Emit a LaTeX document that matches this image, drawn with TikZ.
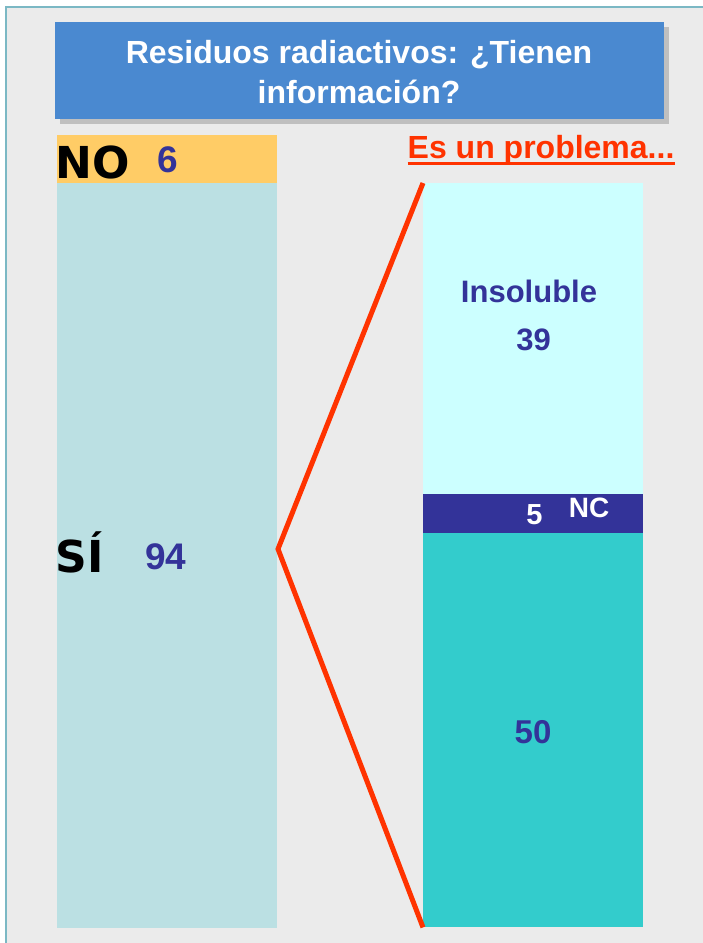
\documentclass[tikz,border=0pt]{standalone}
\usepackage{fontspec}
\setmainfont{Liberation Sans}
\newfontfamily\verdfont{DejaVu Sans}
\usepackage{xcolor}
\usetikzlibrary{shadows}

\definecolor{bgGray}{HTML}{EBEBEB}
\definecolor{frameTeal}{HTML}{7BB8C4}
\definecolor{titleBlue}{HTML}{4A89D0}
\definecolor{noOrange}{HTML}{FFCC66}
\definecolor{siBlue}{HTML}{BBE0E3}
\definecolor{insCyan}{HTML}{CCFFFF}
\definecolor{ncNavy}{HTML}{333399}
\definecolor{fiftyTeal}{HTML}{33CCCC}
\definecolor{probRed}{HTML}{FF3300}

\tikzset{
  bar/.style={rectangle,inner sep=0pt,anchor=north west,minimum width=220pt},
  lbl/.style={inner sep=0pt,anchor=base,font=\bfseries\fontsize{#1}{#1}\selectfont},
  lbl/.default=31,
  bigword/.style={inner sep=0pt,anchor=base west,font=\verdfont\bfseries\fontsize{44}{44}\selectfont}
}

\begin{document}
\begin{tikzpicture}[x=1pt,y=-1pt]
\useasboundingbox (0,0) rectangle (702,943);
\fill[white] (0,0) rectangle (702,943);
\fill[bgGray,draw=frameTeal,line width=2pt] (5.5,6.5) rectangle (712,953);

% title
\node[rectangle,fill=titleBlue,minimum width=609pt,minimum height=97pt,inner sep=0pt,
      drop shadow={shadow xshift=5pt,shadow yshift=-5pt,fill=black!25,opacity=1}]
      (title) at (359.5,70.5) {};
\node[lbl=32,white] (title1) at (359,63) {Residuos radiactivos: ¿Tienen};
\node[lbl=32,white] (title2) at (359,103) {información?};

% left column
\node[bar,fill=noOrange,minimum height=48pt] (nobar) at (57,135) {};
\node[bar,fill=siBlue,minimum height=745pt] (sibar) at (57,183) {};
\node[bigword] (no) at (55,178) {NO};
\node[lbl=37,ncNavy] (nonum) at (167.5,172) {6};
\node[bigword] (si) at (55.5,572) {SÍ};
\node[lbl=37,ncNavy] (sinum) at (166,569) {94};

% right column
\node[bar,fill=insCyan,minimum height=311pt] (insbar) at (423,183) {};
\node[bar,fill=ncNavy,minimum height=39pt] (ncbar) at (423,494) {};
\node[bar,fill=fiftyTeal,minimum height=394pt] (fiftybar) at (423,533) {};
\node[lbl=31,ncNavy] (ins) at (529,302) {Insoluble};
\node[lbl=31,ncNavy] (insnum) at (533.5,350) {39};
\node[lbl=29,white] (ncnum) at (534.5,524) {5};
\node[lbl=28,white] (nc) at (589,517) {NC};
\node[lbl=33,ncNavy] (fiftynum) at (533,743) {50};

% es un problema
\node[lbl=32,probRed,anchor=base west] (prob) at (407.5,158) {Es un problema...};
\draw[probRed,line width=3pt] ([yshift=-5.5pt]prob.base west) -- ([yshift=-5.5pt]prob.base east);

% zoom lines
\coordinate (apex) at (278,549);
\draw[probRed,line width=5pt,line join=miter] (insbar.north west) -- (apex) -- (fiftybar.south west);

\end{tikzpicture}
\end{document}
